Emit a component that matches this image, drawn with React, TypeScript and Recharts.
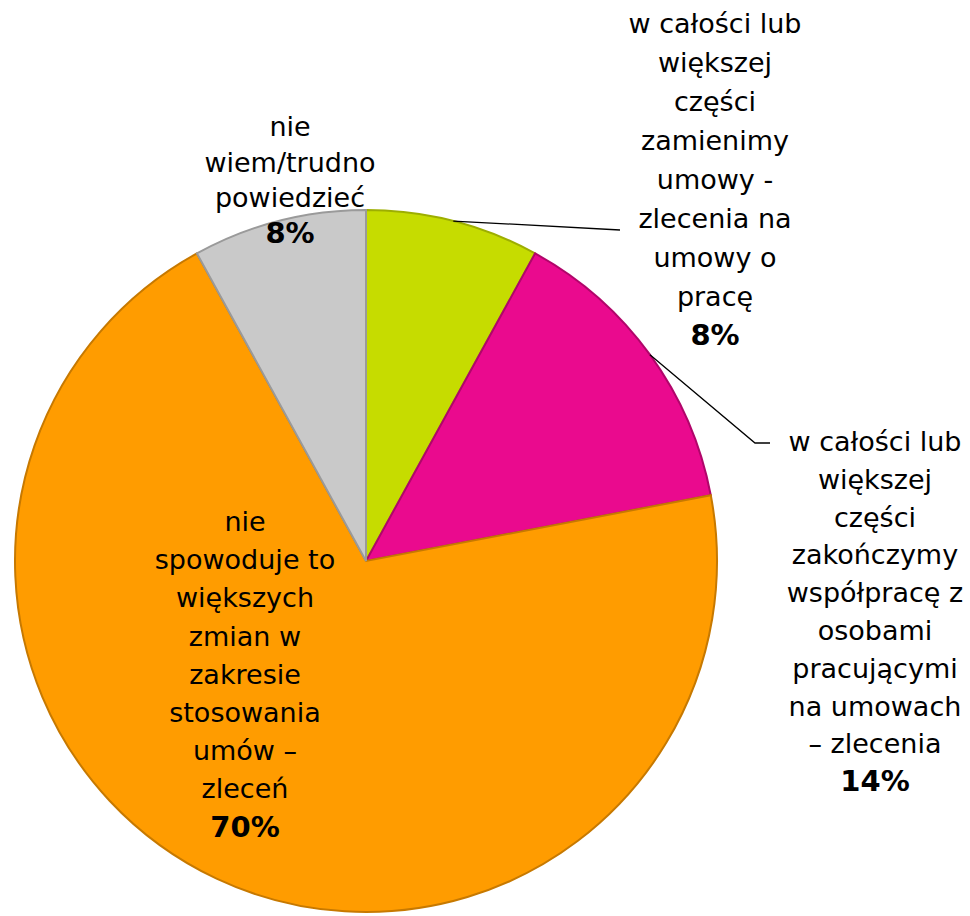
import { PieChart, Pie, Cell } from "recharts";

const names = [
  "w całości lub większej części zamienimy umowy - zlecenia na umowy o pracę",
  "w całości lub większej części zakończymy współpracę z osobami pracującymi na umowach – zlecenia",
  "nie spowoduje to większych zmian w zakresie stosowania umów – zleceń",
  "nie wiem/trudno powiedzieć",
];
const values = [8, 14, 70, 8];
const labelLines = [
  ["w całości lub", "większej", "części", "zamienimy", "umowy -", "zlecenia na", "umowy o", "pracę"],
  ["w całości lub", "większej", "części", "zakończymy", "współpracę z", "osobami", "pracującymi", "na umowach", "– zlecenia"],
  ["nie", "spowoduje to", "większych", "zmian w", "zakresie", "stosowania", "umów –", "zleceń"],
  ["nie", "wiem/trudno", "powiedzieć"],
];

const COLORS = ["#C6DC00", "#EA0A8E", "#FF9C00", "#C9C9C9"];
const EDGES = ["#9DAE00", "#B0066A", "#C77900", "#9A9A9A"];

// label block layout: x center, first line baseline, line height, leader line end
const LABEL_POS = [
  { x: 715, y: 33, lh: 39, lineTo: [620, 230] as [number, number], elbow: null as null | [number, number] },
  { x: 875, y: 451, lh: 37.8, lineTo: [755, 443] as [number, number], elbow: [770, 443] as [number, number] },
  { x: 245, y: 531, lh: 38.2, lineTo: null, elbow: null },
  { x: 290, y: 136, lh: 35.7, lineTo: null, elbow: null },
];

const data = names.map((name, i) => ({ name, value: values[i] }));

const FONT = "'DejaVu Sans', Verdana, sans-serif";

const renderLabel = (props: any) => {
  const { cx, cy, midAngle, outerRadius, index } = props;
  const pos = LABEL_POS[index];
  const lines = labelLines[index];
  const rad = (Math.PI / 180) * midAngle;
  const sx = cx + outerRadius * Math.cos(rad);
  const sy = cy - outerRadius * Math.sin(rad);
  let path = "";
  if (pos.lineTo) {
    path = `M${sx},${sy} L${pos.lineTo[0]},${pos.lineTo[1]}`;
    if (pos.elbow) path += ` L${pos.elbow[0]},${pos.elbow[1]}`;
  }
  return (
    <g key={`lbl-${index}`}>
      {path && <path d={path} stroke="#000" strokeWidth={1.3} fill="none" />}
      <text textAnchor="middle" fontFamily={FONT} fontSize={27} fill="#000">
        {lines.map((l, i) => (
          <tspan key={i} x={pos.x} y={pos.y + i * pos.lh}>
            {l}
          </tspan>
        ))}
        <tspan x={pos.x} y={pos.y + lines.length * pos.lh} fontWeight="bold" fontSize={29}>
          {values[index]}%
        </tspan>
      </text>
    </g>
  );
};

export default function App() {
  return (
    <div style={{ position: "absolute", left: 0, top: 0, background: "#fff" }}>
      <PieChart width={970} height={916} margin={{ top: 0, right: 0, bottom: 0, left: 0 }}>
        <Pie
          data={data}
          dataKey="value"
          nameKey="name"
          cx={366}
          cy={561}
          outerRadius={351}
          startAngle={90}
          endAngle={-270}
          label={renderLabel}
          labelLine={false}
          isAnimationActive={false}
        >
          {data.map((d, i) => (
            <Cell key={d.name} fill={COLORS[i]} stroke={EDGES[i]} strokeWidth={2} />
          ))}
        </Pie>
      </PieChart>
    </div>
  );
}
